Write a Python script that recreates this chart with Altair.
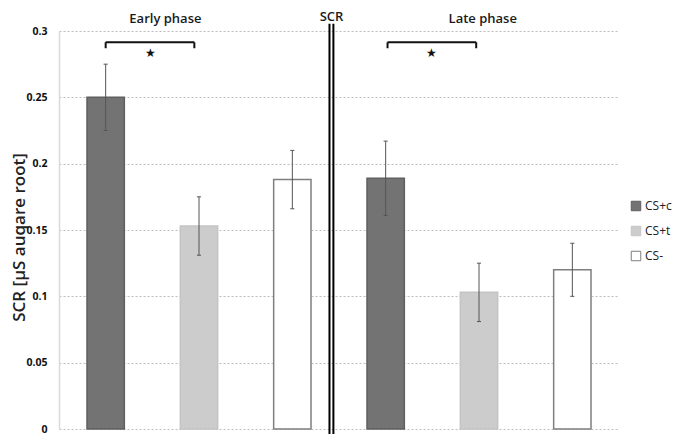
import altair as alt
import pandas as pd

# ---- data ----
positions = [1, 2, 3, 4, 5, 6]
phases = ["Early phase", "Early phase", "Early phase", "Late phase", "Late phase", "Late phase"]
conditions = ["CS+c", "CS+t", "CS-", "CS+c", "CS+t", "CS-"]
means = [0.250, 0.153, 0.188, 0.189, 0.103, 0.120]
errors = [0.025, 0.022, 0.022, 0.028, 0.022, 0.020]

cond_order = ["CS+c", "CS+t", "CS-"]
fill_colors = ["#737373", "#cccccc", "#ffffff"]
stroke_colors = ["#5f5f5f", "#c4c4c4", "#7f7f7f"]

# significance brackets (x from, x to, y)
br_from = [1.0, 4.02]
br_to = [1.95, 4.97]
br_y = [0.2915, 0.2915]
br_drop = [0.287, 0.287]
star_y = [0.2834, 0.2834]

# panel labels
label_text = ["Early phase", "SCR", "Late phase"]
label_x = [1.64, 3.42, 5.04]
label_y = [0.309, 0.3105, 0.309]

# divider between phases
divider_x = [3.398, 3.44]
divider_y = [-0.0075, 0.3055]

FONT = "Open Sans"

df = pd.DataFrame({"pos": positions, "phase": phases, "cond": conditions,
                   "mean": means, "err": errors})
df_br = pd.DataFrame({"x1": br_from, "x2": br_to, "y": br_y, "yd": br_drop, "sy": star_y})
df_lab = pd.DataFrame({"t": label_text, "x": label_x, "y": label_y})
df_div = pd.DataFrame({"x": divider_x, "y1": [divider_y[0]] * 2, "y2": [divider_y[1]] * 2})

xs = alt.Scale(domain=[0.5, 6.5], nice=False, zero=False)
ys = alt.Scale(domain=[0, 0.3], nice=False)

legend = alt.Legend(title=None, orient="none", legendX=571, legendY=169,
                    symbolType="square", symbolSize=90, symbolStrokeWidth=1,
                    labelFontSize=12, labelFont=FONT, labelColor="#222222",
                    rowPadding=11, labelOffset=3)

base = alt.Chart(df).transform_calculate(
    xl="datum.pos - 0.2", xr="datum.pos + 0.2",
    lo="datum.mean - datum.err", hi="datum.mean + datum.err",
    cl="datum.pos - 0.022", cr="datum.pos + 0.022")

bars = base.mark_bar(strokeWidth=1.5).encode(
    x=alt.X("xl:Q", scale=xs, axis=None),
    x2="xr:Q",
    y=alt.Y("mean:Q", scale=ys,
            axis=alt.Axis(values=[0, 0.05, 0.1, 0.15, 0.2, 0.25, 0.3], format="~g",
                          title="SCR [µS auqare root]")),
    y2=alt.datum(0),
    fill=alt.Fill("cond:N", scale=alt.Scale(domain=cond_order, range=fill_colors), legend=legend),
    stroke=alt.Stroke("cond:N", scale=alt.Scale(domain=cond_order, range=stroke_colors), legend=legend),
)

err_line = base.mark_rule(color="#555555", strokeWidth=1).encode(
    x=alt.X("pos:Q", scale=xs), y=alt.Y("lo:Q", scale=ys), y2="hi:Q")
cap_top = base.mark_rule(color="#555555", strokeWidth=1).encode(
    x=alt.X("cl:Q", scale=xs), x2="cr:Q", y=alt.Y("hi:Q", scale=ys))
cap_bot = base.mark_rule(color="#555555", strokeWidth=1).encode(
    x=alt.X("cl:Q", scale=xs), x2="cr:Q", y=alt.Y("lo:Q", scale=ys))

brb = alt.Chart(df_br)
br_h = brb.mark_rule(color="#111111", strokeWidth=2).encode(
    x=alt.X("x1:Q", scale=xs), x2="x2:Q", y=alt.Y("y:Q", scale=ys))
br_l = brb.mark_rule(color="#111111", strokeWidth=2).encode(
    x=alt.X("x1:Q", scale=xs), y=alt.Y("y:Q", scale=ys), y2="yd:Q")
br_r = brb.mark_rule(color="#111111", strokeWidth=2).encode(
    x=alt.X("x2:Q", scale=xs), y=alt.Y("y:Q", scale=ys), y2="yd:Q")
stars = brb.transform_calculate(sx="(datum.x1 + datum.x2) / 2").mark_text(
    text="★", fontSize=12, color="#111111", baseline="middle").encode(
    x=alt.X("sx:Q", scale=xs), y=alt.Y("sy:Q", scale=ys))

labels = alt.Chart(df_lab).mark_text(font=FONT, fontSize=13, fontWeight=600,
                                     color="#1a1a1a", baseline="middle").encode(
    x=alt.X("x:Q", scale=xs), y=alt.Y("y:Q", scale=ys), text="t:N")

divider = alt.Chart(df_div).mark_rule(color="#000000", strokeWidth=2).encode(
    x=alt.X("x:Q", scale=xs), y=alt.Y("y1:Q", scale=ys), y2="y2:Q")

chart = alt.layer(bars, err_line, cap_top, cap_bot, br_h, br_l, br_r, stars,
                  labels, divider).properties(
    width=560, height=398,
    background="white",
    autosize=alt.AutoSizeParams(type="none"),
    padding={"left": 51, "top": 23, "right": 53, "bottom": 5},
).configure_view(stroke=None).configure_axisY(
    domainColor="#d9d9d9", domainWidth=1.5, ticks=False,
    grid=True, gridColor="#bdbdbd", gridDash=[2, 2], gridWidth=1,
    labelFont=FONT, labelFontSize=10.5, labelFontWeight="bold", labelColor="#111111",
    labelPadding=12,
    titleFont=FONT, titleFontSize=17, titleFontWeight=600, titleColor="#222222",
    titleX=-40, titleY=206, titleAngle=-90, titleAlign="center", titleBaseline="middle",
)

chart.save("out.html", embed_options={"renderer": "svg", "actions": False})
